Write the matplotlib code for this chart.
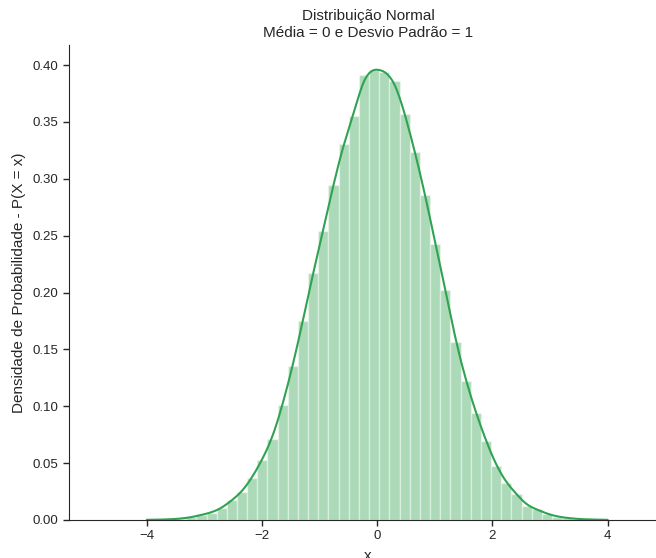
import numpy as np
import matplotlib
matplotlib.use("Agg")
import matplotlib.pyplot as plt
import seaborn as sns

# histogram: 50 bins of width ~0.1764 starting at -4.198
bin_start = -4.198
bin_end = 4.622
densities = [
    0.0001, 0.0002, 0.0003, 0.0006, 0.0012, 0.0023, 0.0045, 0.0064, 0.0103, 0.0172,
    0.0245, 0.0370, 0.0530, 0.0712, 0.1010, 0.1350, 0.1750, 0.2170, 0.2545, 0.2945,
    0.3305, 0.3550, 0.3912, 0.3960, 0.3940, 0.3862, 0.3567, 0.3232, 0.2857, 0.2430,
    0.2022, 0.1568, 0.1225, 0.0938, 0.0692, 0.0475, 0.0322, 0.0229, 0.0123, 0.0094,
    0.0053, 0.0030, 0.0017, 0.0009, 0.0005, 0.0003, 0.0001, 0.0001, 0.0000, 0.0001,
]
x_ticks = [-4, -2, 0, 2, 4]
y_ticks = [0.00, 0.05, 0.10, 0.15, 0.20, 0.25, 0.30, 0.35, 0.40]

title = "Distribuição Normal\nMédia = 0 e Desvio Padrão = 1"
xlabel = "x"
ylabel = "Densidade de Probabilidade - P(X = x)"

green = "#30a352"

sns.set_style("ticks")
plt.rcParams["font.family"] = ["Liberation Sans", "DejaVu Sans"]
plt.rcParams["text.color"] = "0.15"
plt.rcParams["axes.labelcolor"] = "0.15"
plt.rcParams["xtick.color"] = "0.15"
plt.rcParams["ytick.color"] = "0.15"

edges = np.linspace(bin_start, bin_end, len(densities) + 1)
centers = (edges[:-1] + edges[1:]) / 2
width = edges[1] - edges[0]

fig = plt.figure(figsize=(6.56, 5.58), dpi=100)
ax = fig.add_axes([69 / 656, 38 / 558, (667 - 69) / 656, 475 / 558])

ax.bar(centers, densities, width=width, color=green, alpha=0.4,
       edgecolor="white", linewidth=1)
# smoothed density of the binned values
sns.kdeplot(x=centers, weights=densities, bw_method=0.12, color=green,
            linewidth=1.5, clip=(-4.0, 4.0), ax=ax)

ax.set_xlim(-5.35, 5.03)
ax.set_ylim(0, 0.4176)
ax.set_xticks(x_ticks)
ax.set_yticks(y_ticks)
ax.set_yticklabels([f"{v:.2f}" for v in y_ticks])
ax.tick_params(labelsize=9.5, length=4, width=1)
ax.set_xlabel(xlabel, fontsize=11, labelpad=5)
ax.set_ylabel(ylabel, fontsize=11, labelpad=5)
ax.set_title(title, fontsize=11)
sns.despine(ax=ax)

fig.savefig("out.png", dpi=100)
